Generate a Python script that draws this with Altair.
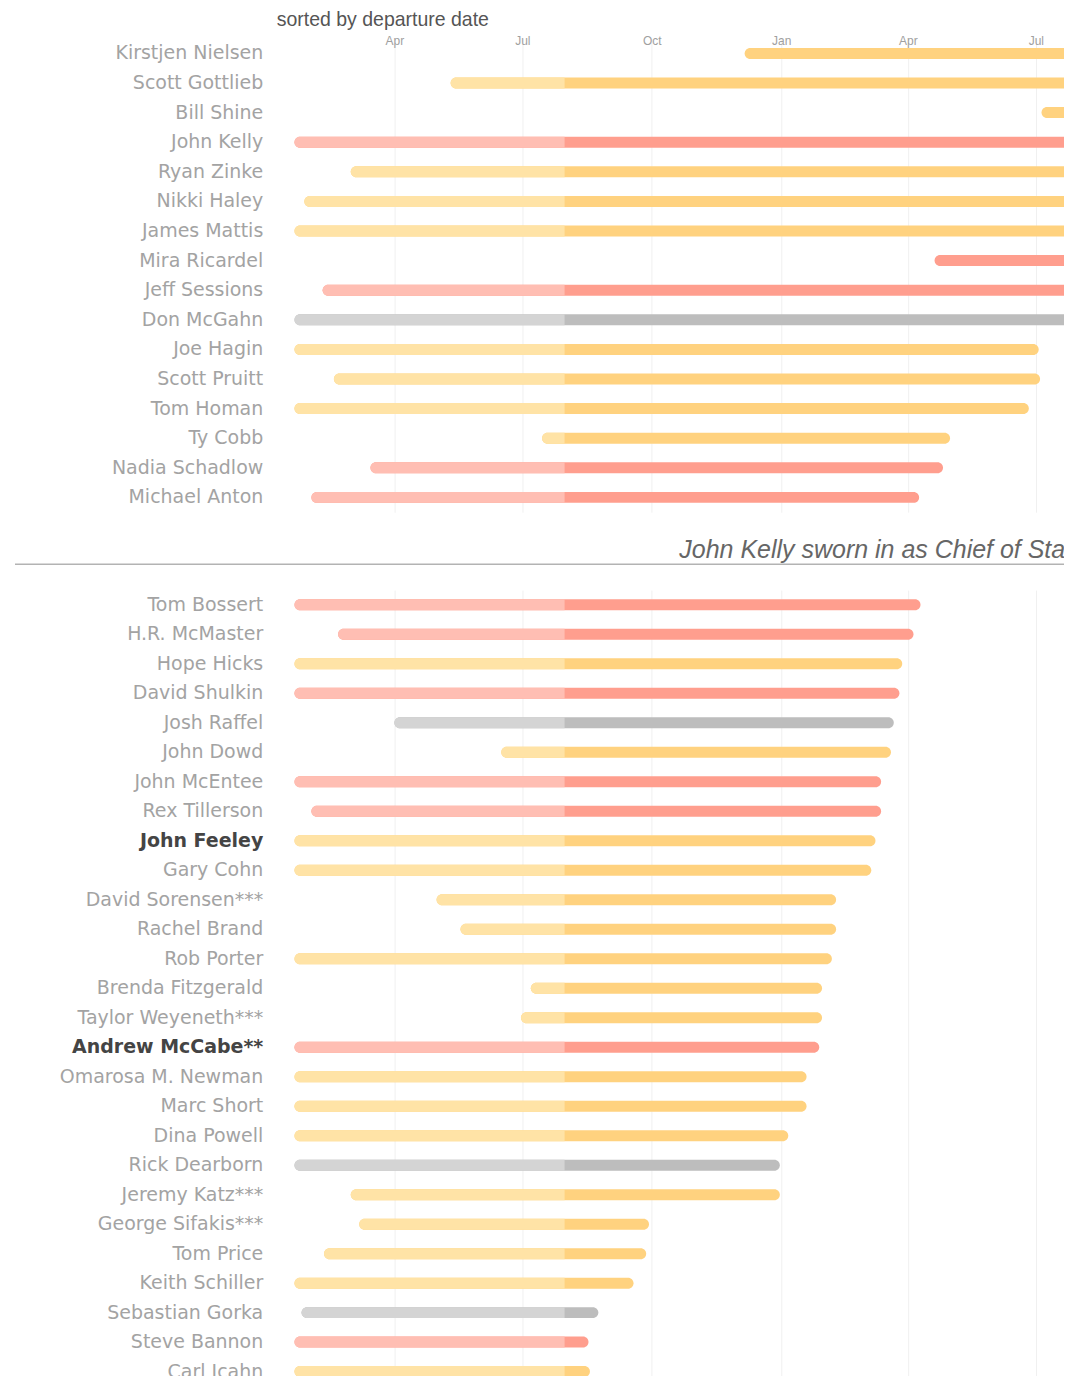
import json
import altair as alt
import pandas as pd

# ---------------- data ----------------
title_text = "sorted by departure date"
annotation_text = "John Kelly sworn in as Chief of Staff"
kelly_date = "2017-07-31"
domain_start = "2017-01-01"
domain_end = "2018-07-21"
tick_dates = ["2017-04-01", "2017-07-01", "2017-10-01", "2018-01-01", "2018-04-01", "2018-07-01"]
bold_names = ["John Feeley", "Andrew McCabe**"]

categories = ["resigned", "fired", "other"]

top_names = ["Kirstjen Nielsen", "Scott Gottlieb", "Bill Shine", "John Kelly", "Ryan Zinke",
             "Nikki Haley", "James Mattis", "Mira Ricardel", "Jeff Sessions", "Don McGahn",
             "Joe Hagin", "Scott Pruitt", "Tom Homan", "Ty Cobb", "Nadia Schadlow", "Michael Anton"]
top_start = ["2017-12-06", "2017-05-11", "2018-07-05", "2017-01-20", "2017-03-01",
             "2017-01-27", "2017-01-20", "2018-04-20", "2017-02-09", "2017-01-20",
             "2017-01-20", "2017-02-17", "2017-01-20", "2017-07-15", "2017-03-15", "2017-02-01"]
top_end = ["2019-04-10", "2019-04-05", "2019-03-08", "2019-01-02", "2019-01-02",
           "2018-12-31", "2019-01-01", "2018-11-14", "2018-11-07", "2018-10-17",
           "2018-07-03", "2018-07-04", "2018-06-26", "2018-05-01", "2018-04-26", "2018-04-09"]
top_how = ["resigned", "resigned", "resigned", "fired", "resigned",
           "resigned", "resigned", "fired", "fired", "other",
           "resigned", "resigned", "resigned", "resigned", "fired", "fired"]

bottom_names = ["Tom Bossert", "H.R. McMaster", "Hope Hicks", "David Shulkin", "Josh Raffel",
                "John Dowd", "John McEntee", "Rex Tillerson", "John Feeley", "Gary Cohn",
                "David Sorensen***", "Rachel Brand", "Rob Porter", "Brenda Fitzgerald",
                "Taylor Weyeneth***", "Andrew McCabe**", "Omarosa M. Newman", "Marc Short",
                "Dina Powell", "Rick Dearborn", "Jeremy Katz***", "George Sifakis***",
                "Tom Price", "Keith Schiller", "Sebastian Gorka", "Steve Bannon", "Carl Icahn"]
bottom_start = ["2017-01-20", "2017-02-20", "2017-01-20", "2017-01-20", "2017-04-01",
                "2017-06-16", "2017-01-20", "2017-02-01", "2017-01-20", "2017-01-20",
                "2017-05-01", "2017-05-18", "2017-01-20", "2017-07-07",
                "2017-06-30", "2017-01-20", "2017-01-20", "2017-01-20",
                "2017-01-20", "2017-01-20", "2017-03-01", "2017-03-07",
                "2017-02-10", "2017-01-20", "2017-01-25", "2017-01-20", "2017-01-20"]
bottom_end = ["2018-04-10", "2018-04-05", "2018-03-28", "2018-03-26", "2018-03-22",
              "2018-03-20", "2018-03-13", "2018-03-13", "2018-03-09", "2018-03-06",
              "2018-02-09", "2018-02-09", "2018-02-06", "2018-01-30",
              "2018-01-30", "2018-01-28", "2018-01-19", "2018-01-19",
              "2018-01-06", "2017-12-31", "2017-12-31", "2017-09-29",
              "2017-09-27", "2017-09-18", "2017-08-24", "2017-08-17", "2017-08-18"]
bottom_how = ["fired", "fired", "resigned", "fired", "other",
              "resigned", "fired", "fired", "resigned", "resigned",
              "resigned", "resigned", "resigned", "resigned",
              "resigned", "fired", "resigned", "resigned",
              "resigned", "other", "resigned", "resigned",
              "resigned", "resigned", "other", "fired", "resigned"]

# ---------------- styling ----------------
dark_colors = ["#FFD27F", "#FF9E8E", "#BDBDBD"]
light_colors = ["#FFE3A6", "#FFBEB3", "#D4D4D4"]
PLOT_W = 797
LABEL_FONT = "DejaVu Sans"
TEXT_FONT = "Liberation Sans"


def utc_dt(s):
    t = pd.Timestamp(s)
    return alt.DateTime(year=t.year, month=t.month, date=t.day, utc=True)


tick_values = [utc_dt(d) for d in tick_dates]
x_scale = alt.Scale(type="utc", domain=[utc_dt(domain_start), utc_dt(domain_end)])
bold_js = json.dumps(bold_names)


def panel(names, starts, ends, hows, height, show_labels):
    df = pd.DataFrame({"name": names, "start": starts, "end": ends, "how": hows})
    pre = df[df["start"] < kelly_date].copy()
    pre["light_end"] = [min(e, kelly_date) for e in pre["end"]]

    x_axis = alt.Axis(orient="top", values=tick_values, title=None,
                      labelExpr="utcFormat(datum.value, '%b')",
                      labels=show_labels, domain=False, ticks=False, tickSize=0,
                      grid=True, gridColor="#f0f0f0", gridWidth=1,
                      labelColor="#a0a0a0", labelFontSize=12, labelFont=TEXT_FONT,
                      labelPadding=-2, labelBaseline="middle")
    y_axis = alt.Axis(title=None, domain=False, ticks=False, grid=False,
                      labelPadding=5, minExtent=260, maxExtent=260, labelLimit=255,
                      labelFontSize=19, labelFont=LABEL_FONT,
                      labelColor={"expr": f"indexof({bold_js}, datum.value) >= 0 ? '#444444' : '#a3a3a3'"},
                      labelFontWeight={"expr": f"indexof({bold_js}, datum.value) >= 0 ? 'bold' : 'normal'"})
    y_scale = alt.Scale(domain=names, paddingInner=0, paddingOuter=0)

    full = alt.Chart(df).mark_bar(size=11, cornerRadius=5.5, clip=True).encode(
        x=alt.X("start:T", scale=x_scale, axis=x_axis),
        x2="end:T",
        y=alt.Y("name:N", scale=y_scale, axis=y_axis),
        color=alt.Color("how:N", scale=alt.Scale(domain=categories, range=dark_colors), legend=None),
    )
    light = alt.Chart(pre).mark_bar(size=11, cornerRadiusTopLeft=5.5, cornerRadiusBottomLeft=5.5,
                                    clip=True).encode(
        x=alt.X("start:T", scale=x_scale, axis=x_axis),
        x2="light_end:T",
        y=alt.Y("name:N", scale=y_scale, axis=y_axis),
        color=alt.Color("how:N", scale=alt.Scale(domain=categories, range=light_colors), legend=None),
    )
    return alt.layer(full, light).resolve_scale(color="independent").properties(
        width=PLOT_W, height=height)


top = panel(top_names, top_start, top_end, top_how, 474, True).properties(
    title=alt.TitleParams(title_text, anchor="start", frame="group", dx=9, fontSize=19.5,
                          color="#555555", font=TEXT_FONT, fontWeight="normal", offset=4))

ann_df = pd.DataFrame({"label": [annotation_text]})
mid_rule = alt.Chart(ann_df).mark_rule(color="#b3b3b3", strokeWidth=1.5).encode(
    x=alt.value(-253), x2=alt.value(PLOT_W), y=alt.value(52))
mid_text = alt.Chart(ann_df).mark_text(align="left", baseline="alphabetic", fontSize=25,
                                       fontStyle="italic", font=TEXT_FONT, color="#666666",
                                       clip=True).encode(
    text="label:N", x=alt.value(412), y=alt.value(46))
middle = alt.layer(mid_rule, mid_text).properties(width=PLOT_W, height=78)

bottom = panel(bottom_names, bottom_start, bottom_end, bottom_how, 797, False)

chart = alt.vconcat(top, middle, bottom, spacing=0, bounds="flush").properties(
    padding={"left": 0, "top": 1, "right": 0, "bottom": 5}
).configure_view(stroke=None)

chart.save("out.html", embed_options={"renderer": "svg", "actions": False})
